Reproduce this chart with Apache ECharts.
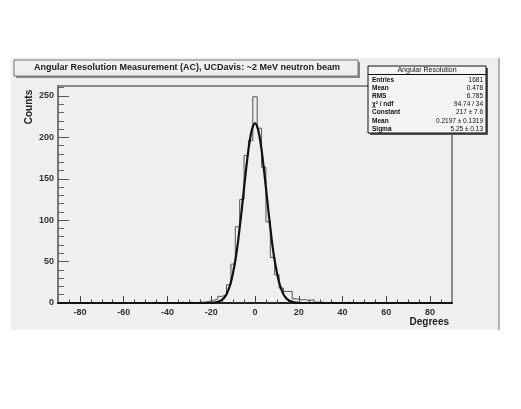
<!DOCTYPE html>
<html>
<head>
<meta charset="utf-8">
<script src="https://cdn.jsdelivr.net/npm/echarts@6/dist/echarts.min.js"></script>
<style>
  html, body { margin: 0; padding: 0; background: #fff; }
  #chart { width: 521px; height: 409px; }
</style>
</head>
<body>
<div id="chart"></div>
<script>
// histogram: 89 bins of 2 degrees, first edge at -89
var binStart = -89;
var binWidth = 2;
var counts = [
  0, 0, 0, 0, 0, 0, 0, 0, 0, 0,
  0, 0, 0, 0, 0, 0, 0, 0, 0, 0,
  0, 1, 0, 0, 0, 0, 0, 1, 0, 1,
  0, 1, 1, 2, 3, 5, 8, 10, 22, 47,
  92, 125, 178, 196, 249, 211, 164, 98, 55, 34,
  18, 14, 14, 5, 4, 4, 3, 4, 1, 1,
  0, 1, 0, 0, 0, 1, 0, 0, 0, 0,
  0, 0, 0, 0, 0, 0, 0, 0, 0, 0,
  0, 0, 0, 0, 0, 0, 0, 0, 0
];

// gaussian fit curve
var fitX = [-90, -22, -20, -18, -17, -16, -15, -14, -13, -12, -11, -10, -9, -8, -7, -6, -5, -4, -3, -2, -1,
  0, 1, 2, 3, 4, 5, 6, 7, 8, 9, 10, 11, 12, 13, 14, 15, 16, 17, 18, 20, 22, 90];
var fitY = [0, 0, 0.2, 0.7, 1.3, 2.3, 4.0, 6.6, 10.7, 17, 25, 37, 51, 69, 91, 114, 139, 163, 185, 202, 213,
  217, 213, 202, 185, 163, 139, 114, 91, 69, 51, 37, 25, 17, 10.7, 6.6, 4.0, 2.3, 1.3, 0.7, 0.2, 0, 0];

// axis ticks
var xMajor = [-80, -60, -40, -20, 0, 20, 40, 60, 80];
var xMinor = [-85, -75, -70, -65, -55, -50, -45, -35, -30, -25, -15, -10, -5, 5, 10, 15, 25, 30, 35, 45, 50, 55, 65, 70, 75, 85];
var yMajor = [0, 50, 100, 150, 200, 250];
var yMinor = [10, 20, 30, 40, 60, 70, 80, 90, 110, 120, 130, 140, 160, 170, 180, 190, 210, 220, 230, 240, 260];

// stats box
var statNames = ["Entries", "Mean", "RMS", "\u03c7\u00b2 / ndf", "Constant", "Mean", "Sigma"];
var statValues = ["1681", "0.478", "6.785", "94.74 / 34", "217 \u00b1 7.6", "0.2197 \u00b1 0.1319", "5.25 \u00b1 0.13"];

var histData = [];
for (var i = 0; i < counts.length; i++) {
  histData.push([binStart + i * binWidth, counts[i]]);
}
histData.push([binStart + counts.length * binWidth, counts[counts.length - 1]]);

var fitData = fitX.map(function (x, i) { return [x, fitY[i]]; });

var font = "Liberation Sans, Arial, Helvetica, sans-serif";

var myChart = echarts.init(document.getElementById("chart"));

var graphics = [
  // canvas panel
  { type: "rect", z: -10, shape: { x: 11, y: 58, width: 488, height: 272 }, style: { fill: "#efefef" } },
  { type: "line", z: -9, shape: { x1: 499, y1: 58, x2: 499, y2: 330 }, style: { stroke: "#9a9a9a", lineWidth: 1.5 } },
  // title box
  { type: "rect", z: 5, shape: { x: 16, y: 62, width: 344, height: 16 }, style: { fill: "#888" } },
  { type: "rect", z: 6, shape: { x: 14, y: 60, width: 344, height: 16 }, style: { fill: "#efefef", stroke: "#777", lineWidth: 1 } },
  {
    type: "text", z: 7, x: 187, y: 68,
    style: { text: "Angular Resolution Measurement (AC), UCDavis: ~2 MeV neutron beam", font: "bold 9px " + font, fill: "#222", align: "center", verticalAlign: "middle" }
  },
  // stats box
  { type: "rect", z: 5, shape: { x: 370, y: 68, width: 118, height: 67 }, style: { fill: "#555" } },
  { type: "rect", z: 6, shape: { x: 368, y: 66, width: 118, height: 67 }, style: { fill: "#f4f4f4", stroke: "#111", lineWidth: 1 } },
  { type: "line", z: 7, shape: { x1: 368, y1: 74.5, x2: 486, y2: 74.5 }, style: { stroke: "#111", lineWidth: 1 } },
  {
    type: "text", z: 7, x: 427, y: 70.5,
    style: { text: "Angular Resolution", font: "7px " + font, fill: "#111", align: "center", verticalAlign: "middle" }
  },
  // axis titles
  {
    type: "text", z: 7, x: 29, y: 107, rotation: Math.PI / 2,
    style: { text: "Counts", font: "bold 10px " + font, fill: "#222", align: "center", verticalAlign: "middle" }
  },
  {
    type: "text", z: 7, x: 449, y: 322,
    style: { text: "Degrees", font: "bold 10px " + font, fill: "#222", align: "right", verticalAlign: "middle" }
  }
];
statNames.forEach(function (name, i) {
  graphics.push({
    type: "text", z: 7, x: 372, y: 80 + i * 8.15,
    style: { text: name, font: "bold 6.5px " + font, fill: "#111", align: "left", verticalAlign: "middle" }
  });
  graphics.push({
    type: "text", z: 7, x: 483, y: 80 + i * 8.15,
    style: { text: statValues[i], font: "6.5px " + font, fill: "#111", align: "right", verticalAlign: "middle" }
  });
});

var option = {
  animation: false,
  backgroundColor: "#fff",
  grid: {
    left: 58,
    right: 69,
    top: 86,
    bottom: 106,
    show: true,
    backgroundColor: "#efefef",
    borderColor: "#8a8a8a",
    borderWidth: 2,
  },
  xAxis: [
    {
      type: "value",
      min: -90,
      max: 90,
      interval: 10,
      axisLine: { show: true, onZero: false, lineStyle: { color: "#222", width: 2 } },
      axisTick: { show: true, inside: true, length: 7, customValues: xMajor, lineStyle: { color: "#444" } },
      axisLabel: { customValues: xMajor, margin: 5, color: "#333", fontSize: 9, fontWeight: "bold", fontFamily: font },
      splitLine: { show: false },
    },
    {
      type: "value",
      min: -90,
      max: 90,
      position: "bottom",
      axisLine: { show: false, onZero: false },
      axisTick: { show: true, inside: true, length: 3.5, customValues: xMinor, lineStyle: { color: "#444" } },
      axisLabel: { show: false },
      splitLine: { show: false },
    },
  ],
  yAxis: [
    {
      type: "value",
      min: 0,
      max: 262,
      interval: 50,
      axisLine: { show: true, onZero: false, lineStyle: { color: "#777", width: 2 } },
      axisTick: { show: true, inside: true, length: 11, customValues: yMajor, lineStyle: { color: "#555" } },
      axisLabel: { customValues: yMajor, margin: 4, color: "#333", fontSize: 9, fontWeight: "bold", fontFamily: font },
      splitLine: { show: false },
    },
    {
      type: "value",
      min: 0,
      max: 262,
      position: "left",
      axisLine: { show: false, onZero: false },
      axisTick: { show: true, inside: true, length: 6, customValues: yMinor, lineStyle: { color: "#666" } },
      axisLabel: { show: false },
      splitLine: { show: false },
    },
  ],
  series: [
    {
      name: "Angular Resolution",
      type: "line",
      step: "end",
      data: histData,
      showSymbol: false,
      lineStyle: { color: "#555", width: 1 },
      z: 3,
    },
    {
      name: "fit",
      type: "line",
      smooth: 0.4,
      data: fitData,
      showSymbol: false,
      lineStyle: { color: "#111", width: 2.2 },
      z: 4,
    },
  ],
  graphic: graphics,
};
myChart.setOption(option);
window.addEventListener("resize", function () {
  myChart.resize();
});
</script>
</body>
</html>
